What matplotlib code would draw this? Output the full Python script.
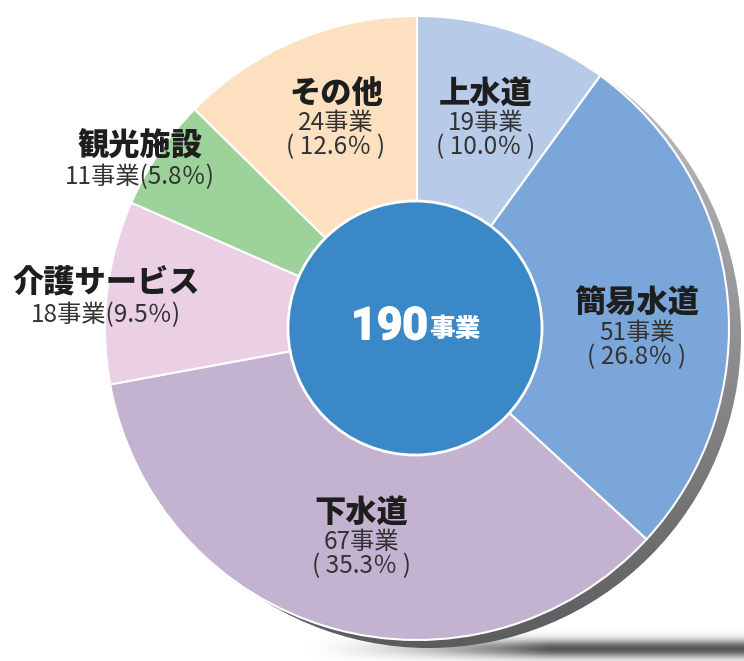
import numpy as np
import matplotlib
matplotlib.use("Agg")
import matplotlib.pyplot as plt
import matplotlib.patheffects as pe
from matplotlib.patches import Circle

plt.rcParams['font.family'] = ['Noto Sans CJK JP', 'DejaVu Sans']

# data
labels = ["上水道", "簡易水道", "下水道", "介護サービス", "観光施設", "その他"]
counts = [19, 51, 67, 18, 11, 24]
shares = [10.0, 26.8, 35.3, 9.5, 5.8, 12.6]
total = 190
colors = ["#b7cbe9", "#7ba6d9", "#c3b3d1", "#ebd0e5", "#9dd39a", "#fde0bf"]

W, H = 744, 661


def py(y):
    # pixel row -> data y
    return H - y


fig = plt.figure(figsize=(W / 100, H / 100), dpi=100)
ax = fig.add_axes([0, 0, 1, 1])

cx, cy, R = 417, 328, 312

# soft shadow under the disc
xs = np.linspace(0, W, 400)
ys = np.linspace(600, H, 80)
X, Y = np.meshgrid(xs, ys)
a = np.exp(-((Y - 649) / 9.0) ** 2) * np.clip((X - 300) / 250, 0, 1) ** 1.5 * 0.85
img = np.zeros(X.shape + (4,))
img[..., :3] = 0.22
img[..., 3] = a
ax.imshow(img, extent=(0, W, py(H), py(600)), origin="upper", zorder=0,
          interpolation="bilinear")

# grey side of the disc
side = Circle((cx + 12, py(cy + 8)), R, fc="none", ec="none")
ax.add_patch(side)
gy = np.linspace(0, 1, 256).reshape(-1, 1) * np.ones((1, 4))
grad = np.zeros((256, 4, 3))
shade = 0.78 - 0.42 * gy
grad[..., 0] = shade
grad[..., 1] = shade
grad[..., 2] = shade + 0.01
gi = ax.imshow(grad, extent=(cx + 12 - R, cx + 12 + R, py(cy + 8 + R), py(cy + 8 - R)),
               origin="upper", zorder=1, interpolation="bilinear")
gi.set_clip_path(side)

wedges, _ = ax.pie(counts, colors=colors, startangle=90, counterclock=False,
                   center=(cx, py(cy)), radius=R,
                   wedgeprops=dict(edgecolor="white", linewidth=1.5))
for w in wedges:
    w.set_zorder(2)

ax.add_patch(Circle((415, py(328)), 127, fc="#3a88c8", ec="white", lw=2, zorder=3))

# center total
ax.text(428, py(327), str(total), ha="right", va="center", fontsize=32,
        fontweight="bold", color="white", zorder=4, family=["Roboto", "DejaVu Sans"],
        path_effects=[pe.withStroke(linewidth=1.4, foreground="white")])
ax.text(429, py(329), "事業", ha="left", va="center", fontsize=18.5,
        fontweight="heavy", color="white", zorder=4)

# slice labels: (x, y of title row, single line?)
label_pos = [(486, 93, False), (637, 303, False), (361, 512, False),
             (106, 283, True), (140, 145, True), (336, 93, False)]

for name, n, s, (x, y, single) in zip(labels, counts, shares, label_pos):
    ax.text(x, py(y), name, ha="center", va="center", fontsize=22.5,
            fontweight="heavy", color="#1e1e1e", zorder=4)
    if single:
        ax.text(x, py(y + 32), f"{n}事業({s:.1f}％)", ha="center", va="center",
                fontsize=17.5, color="#333333", zorder=4)
    else:
        ax.text(x, py(y + 30), f"{n}事業", ha="center", va="center",
                fontsize=17.5, color="#333333", zorder=4)
        ax.text(x, py(y + 54), f"( {s:.1f}％ )", ha="center", va="center",
                fontsize=17.5, color="#333333", zorder=4)

ax.set_xlim(0, W)
ax.set_ylim(0, H)
ax.set_aspect("auto")
ax.axis("off")

plt.savefig("out.png", dpi=100)
